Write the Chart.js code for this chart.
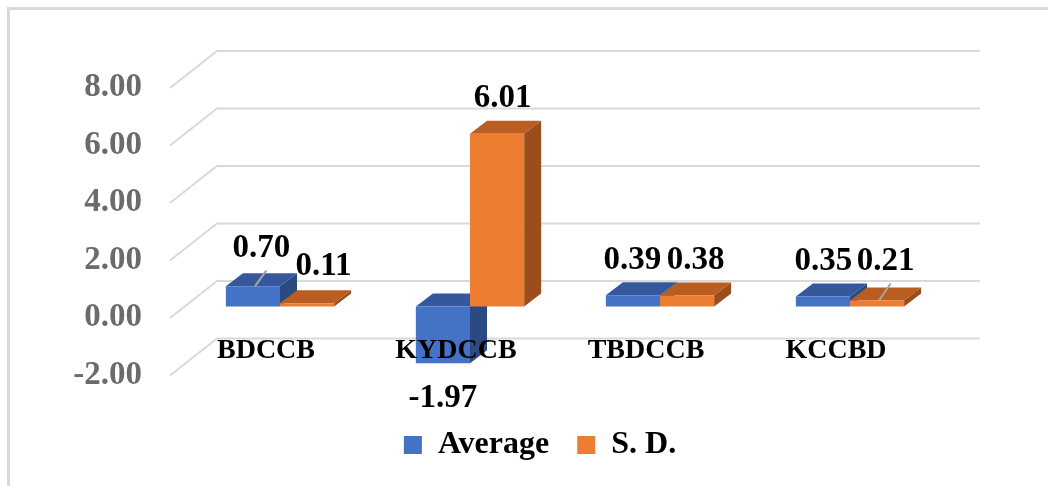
<!DOCTYPE html>
<html>
<head>
<meta charset="utf-8">
<title>Average / S. D.</title>
<script src="https://cdn.jsdelivr.net/npm/chart.js@4.4.1/dist/chart.umd.min.js"></script>
<style>
  html, body { margin: 0; padding: 0; background: #fff; }
  #wrap { position: relative; width: 1048px; height: 486px; overflow: hidden; }
  #wrap canvas { position: absolute; left: 0; top: 0; }
  /* light frame, open on the right and bottom */
  #frame {
    position: absolute; left: 7px; top: 7px; right: 0; bottom: 0;
    border-top: 3px solid #d9d9d9; border-left: 3px solid #d9d9d9;
    pointer-events: none;
  }
</style>
</head>
<body>
<div id="wrap">
  <canvas id="chart" width="1048" height="486"></canvas>
  <div id="frame"></div>
</div>
<script>
const categories = ['BDCCB', 'KYDCCB', 'TBDCCB', 'KCCBD'];
const averageValues = [0.70, -1.97, 0.39, 0.35];
const sdValues = [0.11, 6.01, 0.38, 0.21];
const yTicks = [-2, 0, 2, 4, 6, 8];

const FONT = '"Liberation Serif", "Times New Roman", serif';

// 3D look: bar depth, back wall and front edge of the side wall (px, relative to the bar plane)
const DEPTH = { dx: 17, dy: -13 };
const WALL = { dx: 32, dy: -25.5 };
const EDGE = { dx: -15, dy: 11.5 };

// hand-placed data labels (series index -> per category [dx, dy])
const labelNudge = [
    [[0, -3], [0, 0], [-9, 0], [-8, 0]],
    [[8, -2], [-3, 0], [0, 0], [0, -4]]
];
// labels that were dragged away from their bar get a leader line
const leaderLines = [[0, 0], [1, 3]];

// grid lines drawn on the back wall and the left side wall
const wallGrid = {
    id: 'wallGrid',
    beforeDatasetsDraw(chart) {
        const { ctx, chartArea: area, scales: { y } } = chart;
        ctx.save();
        ctx.strokeStyle = '#d9d9d9';
        ctx.lineWidth = 2;
        y.ticks.forEach(t => {
            const py = y.getPixelForValue(t.value);
            ctx.beginPath();
            ctx.moveTo(area.left + EDGE.dx, py + EDGE.dy);
            ctx.lineTo(area.left + WALL.dx, py + WALL.dy);
            ctx.lineTo(area.right + WALL.dx + 3, py + WALL.dy);
            ctx.stroke();
        });
        ctx.restore();
    }
};

function barBox(bar) {
    const { x, y, base, width } = bar.getProps(['x', 'y', 'base', 'width'], true);
    return {
        cx: x,
        x1: x - width / 2,
        x2: x + width / 2,
        top: Math.min(y, base),
        bottom: Math.max(y, base)
    };
}

// top and right faces of every bar, painted behind the front faces
const barSides = {
    id: 'barSides',
    beforeDatasetsDraw(chart) {
        const ctx = chart.ctx;
        const { dx, dy } = DEPTH;
        ctx.save();
        categories.forEach((_, i) => {
            chart.data.datasets.forEach((ds, d) => {
                const b = barBox(chart.getDatasetMeta(d).data[i]);

                ctx.fillStyle = ds.topColor;
                ctx.beginPath();
                ctx.moveTo(b.x1, b.top);
                ctx.lineTo(b.x2, b.top);
                ctx.lineTo(b.x2 + dx, b.top + dy);
                ctx.lineTo(b.x1 + dx, b.top + dy);
                ctx.closePath();
                ctx.fill();

                ctx.fillStyle = ds.sideColor;
                ctx.beginPath();
                ctx.moveTo(b.x2, b.top);
                ctx.lineTo(b.x2, b.bottom);
                ctx.lineTo(b.x2 + dx, b.bottom + dy);
                ctx.lineTo(b.x2 + dx, b.top + dy);
                ctx.closePath();
                ctx.fill();
            });
        });
        ctx.restore();
    }
};

function labelPos(chart, d, i) {
    const b = barBox(chart.getDatasetMeta(d).data[i]);
    const v = chart.data.datasets[d].data[i];
    const [nx, ny] = labelNudge[d][i];
    if (v < 0) {
        return { b, x: b.cx + nx, y: b.bottom + 35 + ny };
    }
    return { b, x: b.cx + DEPTH.dx / 2 + nx, y: b.top + DEPTH.dy - 22 + ny };
}

const valueLabels = {
    id: 'valueLabels',
    afterDatasetsDraw(chart) {
        const ctx = chart.ctx;
        ctx.save();

        ctx.strokeStyle = '#a6a6a6';
        ctx.lineWidth = 2;
        leaderLines.forEach(([d, i]) => {
            const p = labelPos(chart, d, i);
            ctx.beginPath();
            ctx.moveTo(p.b.cx + 2, p.b.top);
            ctx.lineTo(p.x + 5, p.y + 22);
            ctx.stroke();
        });

        ctx.fillStyle = '#000';
        ctx.font = 'bold 33px ' + FONT;
        ctx.textAlign = 'center';
        ctx.textBaseline = 'middle';
        chart.data.datasets.forEach((ds, d) => {
            ds.data.forEach((v, i) => {
                const p = labelPos(chart, d, i);
                ctx.fillText(v.toFixed(2), p.x, p.y);
            });
        });
        ctx.restore();
    }
};

// legend sits a little left of the plot centre
const legendShift = {
    id: 'legendShift',
    afterLayout(chart) {
        chart.legend.left -= 25;
        chart.legend.right -= 25;
    }
};

new Chart(document.getElementById('chart'), {
    type: 'bar',
    data: {
        labels: categories,
        datasets: [
            {
                label: 'Average',
                data: averageValues,
                backgroundColor: '#4472C4',
                topColor: '#34589B',
                sideColor: '#2B4A82'
            },
            {
                label: 'S. D.',
                data: sdValues,
                backgroundColor: '#ED7D31',
                topColor: '#B95D21',
                sideColor: '#9B4E1B'
            }
        ]
    },
    options: {
        responsive: false,
        animation: false,
        events: [],
        categoryPercentage: 0.57,
        barPercentage: 1,
        borderWidth: 0,
        layout: { padding: { left: 20, right: 103, top: 76.5, bottom: 15 } },
        scales: {
            x: {
                position: { y: 0 },
                grid: { display: false, drawTicks: false },
                border: { display: false },
                ticks: {
                    z: 1, // category names are printed over the bars
                    color: '#000',
                    font: { family: FONT, size: 28, weight: 'bold' },
                    padding: 27,
                    labelOffset: -14,
                    maxRotation: 0,
                    autoSkip: false
                }
            },
            y: {
                // the floor runs below -2, down to the legend
                min: -3.287,
                max: 8,
                grid: { display: false, drawTicks: false },
                border: { display: false },
                ticks: {
                    color: '#6b6b6b',
                    font: { family: FONT, size: 33, weight: 'bold' },
                    padding: 43,
                    labelOffset: 11,
                    callback: v => v.toFixed(2)
                },
                afterBuildTicks(scale) { scale.ticks = yTicks.map(v => ({ value: v })); },
                afterFit(scale) { scale.width = 165; }
            }
        },
        plugins: {
            tooltip: { enabled: false },
            legend: {
                position: 'bottom',
                fullSize: false,
                labels: {
                    color: '#000',
                    boxWidth: 18,
                    boxHeight: 18,
                    padding: 28,
                    font: { family: FONT, size: 32, weight: 'bold' }
                }
            }
        }
    },
    plugins: [wallGrid, barSides, valueLabels, legendShift]
});
</script>
</body>
</html>
